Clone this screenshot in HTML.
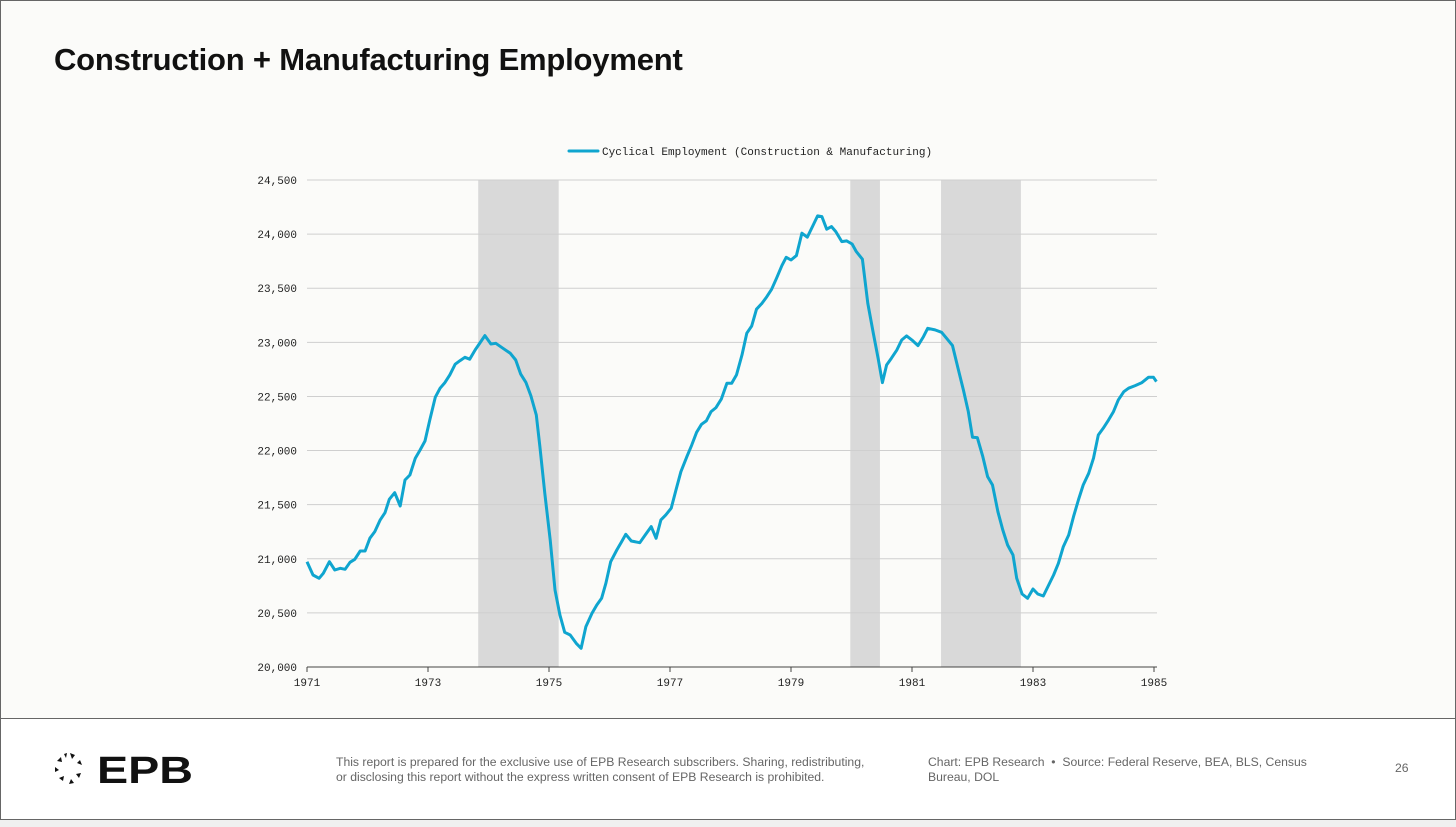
<!DOCTYPE html>
<html><head><meta charset="utf-8">
<style>
html,body{margin:0;padding:0;}
body{width:1456px;height:827px;position:relative;background:#f0f0f0;font-family:"Liberation Sans",sans-serif;overflow:hidden;}
#frame{position:absolute;left:0;top:0;width:1454px;height:818px;border:1px solid #666;background:#fbfbf9;}
#title{position:absolute;left:54px;top:42px;font-size:31px;font-weight:bold;color:#111;letter-spacing:-0.2px;}
#footer{position:absolute;left:1px;top:718px;width:1454px;height:100px;background:#fff;border-top:1px solid #666;}
.ft{position:absolute;font-size:12.2px;color:#666;line-height:15px;}
</style></head>
<body>
<div id="frame"></div>
<div id="title">Construction + Manufacturing Employment</div>
<svg id="chart" width="1456" height="720" style="position:absolute;left:0;top:0;"></svg>
<div id="footer">
  <svg style="position:absolute;left:52px;top:32px" width="150" height="38">
    <g fill="#111">
      <polygon points="17,2 22,4 19,8"/><polygon points="27,9 29,14 24,12"/><polygon points="28,22 26,27 23,23"/>
      <polygon points="21,32 16,33 18,28"/><polygon points="10,30 6,27 11,25"/><polygon points="2,21 2,16 6,19"/>
      <polygon points="4,10 8,6 9,11"/><polygon points="11,3 14,2 13,7"/>
    </g>
    <text x="44" y="32" font-family="Liberation Sans" font-weight="bold" font-size="38" fill="#111" textLength="96" lengthAdjust="spacingAndGlyphs">EPB</text>
  </svg>
  <div class="ft" style="left:335px;top:36px;">This report is prepared for the exclusive use of EPB Research subscribers. Sharing, redistributing,<br>or disclosing this report without the express written consent of EPB Research is prohibited.</div>
  <div class="ft" style="left:927px;top:36px;">Chart: EPB Research &nbsp;•&nbsp; Source: Federal Reserve, BEA, BLS, Census<br>Bureau, DOL</div>
  <div class="ft" style="left:1394px;top:42px;">26</div>
</div>
<script>
const years=[1971.0,1971.1,1971.2,1971.27,1971.37,1971.46,1971.55,1971.63,1971.71,1971.79,1971.88,1971.96,1972.04,1972.12,1972.21,1972.29,1972.36,1972.45,1972.54,1972.62,1972.7,1972.79,1972.87,1972.95,1973.03,1973.12,1973.2,1973.28,1973.36,1973.45,1973.53,1973.61,1973.69,1973.78,1973.94,1974.04,1974.12,1974.24,1974.36,1974.45,1974.53,1974.62,1974.7,1974.79,1974.85,1974.93,1975.02,1975.1,1975.18,1975.26,1975.35,1975.45,1975.53,1975.61,1975.71,1975.79,1975.87,1975.94,1976.02,1976.12,1976.2,1976.27,1976.36,1976.5,1976.59,1976.69,1976.77,1976.85,1976.93,1977.02,1977.1,1977.18,1977.28,1977.36,1977.44,1977.52,1977.6,1977.68,1977.76,1977.85,1977.94,1978.02,1978.1,1978.19,1978.27,1978.35,1978.43,1978.52,1978.6,1978.68,1978.76,1978.85,1978.92,1979.0,1979.09,1979.18,1979.27,1979.36,1979.44,1979.51,1979.59,1979.67,1979.74,1979.84,1979.92,1980.01,1980.08,1980.18,1980.27,1980.36,1980.44,1980.51,1980.58,1980.66,1980.75,1980.83,1980.91,1981.01,1981.1,1981.19,1981.26,1981.38,1981.49,1981.57,1981.67,1981.76,1981.85,1981.93,1982.0,1982.08,1982.17,1982.25,1982.33,1982.42,1982.5,1982.58,1982.67,1982.73,1982.82,1982.91,1983.0,1983.08,1983.17,1983.26,1983.34,1983.42,1983.5,1983.59,1983.67,1983.75,1983.83,1983.92,1984.0,1984.08,1984.16,1984.25,1984.33,1984.41,1984.5,1984.58,1984.69,1984.8,1984.91,1984.99,1985.04];
const employment=[20973,20850,20820,20866,20973,20896,20912,20903,20967,20995,21072,21072,21190,21251,21359,21426,21550,21611,21488,21728,21774,21929,22005,22088,22283,22493,22576,22628,22699,22798,22831,22862,22844,22930,23062,22985,22991,22945,22899,22837,22708,22628,22505,22329,22036,21605,21174,20712,20481,20321,20296,20219,20173,20373,20496,20573,20635,20774,20973,21081,21158,21226,21164,21149,21220,21297,21189,21359,21405,21467,21636,21805,21944,22052,22169,22243,22274,22360,22397,22477,22622,22622,22699,22884,23084,23151,23306,23361,23422,23490,23592,23709,23786,23761,23801,24008,23971,24076,24168,24162,24045,24069,24023,23931,23937,23909,23838,23768,23361,23084,22853,22628,22791,22853,22930,23022,23059,23016,22970,23053,23130,23115,23093,23038,22970,22761,22560,22360,22123,22120,21944,21759,21682,21435,21266,21127,21035,20820,20675,20635,20721,20675,20656,20758,20850,20958,21112,21220,21389,21543,21682,21790,21929,22144,22206,22283,22360,22468,22544,22576,22600,22628,22678,22678,22637];
const recessionStarts=[1973.83,1979.98,1981.48];
const recessionEnds=[1975.16,1980.47,1982.8];
const yTicks=[20000,20500,21000,21500,22000,22500,23000,23500,24000,24500];
const xTicks=[1971,1973,1975,1977,1979,1981,1983,1985];

const svg=document.getElementById('chart');
const NS='http://www.w3.org/2000/svg';
const X0=307,X1=1154,Y0=667,Y1=180;
function xs(t){return X0+(t-1971)/(1985-1971)*(X1-X0);}
function ys(v){return Y0-(v-20000)/(24500-20000)*(Y0-Y1);}
function mk(tag,attrs){const e=document.createElementNS(NS,tag);for(const k in attrs)e.setAttribute(k,attrs[k]);svg.appendChild(e);return e;}

recessionStarts.forEach((s,i)=>{
  const r=mk('rect',{x:xs(s),y:Y1,width:xs(recessionEnds[i])-xs(s),height:Y0-Y1,fill:'#d9d9d9'});
  
  
});
yTicks.forEach(v=>{
  const l=mk('line',{x1:X0,x2:1157,y1:ys(v),y2:ys(v),stroke:'#cfcfcf','stroke-width':1});
  
  
  const t=mk('text',{x:297,y:ys(v)+4,'text-anchor':'end','font-family':'Liberation Mono, monospace','font-size':11,fill:'#222'});
  t.textContent=v.toLocaleString('en-US');
  
  
});
const ax=mk('line',{x1:X0,x2:1157,y1:Y0,y2:Y0,stroke:'#444','stroke-width':1});


xTicks.forEach(y=>{
  const tk=mk('line',{x1:xs(y),x2:xs(y),y1:Y0,y2:Y0+5,stroke:'#444'});
  
  
  const t=mk('text',{x:xs(y),y:Y0+19,'text-anchor':'middle','font-family':'Liberation Mono, monospace','font-size':11,fill:'#222'});
  t.textContent=y;
  
  
});
const pts=years.map((t,i)=>xs(t).toFixed(1)+','+ys(employment[i]).toFixed(1)).join(' ');
const pl=mk('polyline',{points:pts,fill:'none',stroke:'#0fa5cf','stroke-width':3,'stroke-linejoin':'round'});


const ll=mk('line',{x1:569,x2:598,y1:151,y2:151,stroke:'#0fa5cf','stroke-width':3,'stroke-linecap':'round'});


const lt=mk('text',{x:602,y:155,'font-family':'Liberation Mono, monospace','font-size':11,fill:'#222'});
lt.textContent='Cyclical Employment (Construction & Manufacturing)';


</script>
</body></html>
